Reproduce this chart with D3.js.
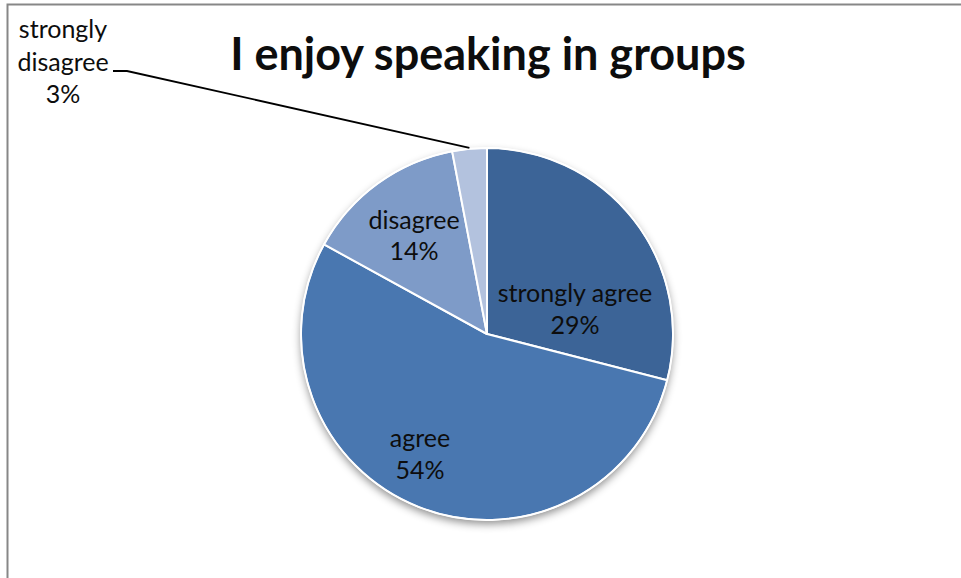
<!DOCTYPE html>
<html>
<head>
<meta charset="utf-8">
<script src="https://cdn.jsdelivr.net/npm/d3@7/dist/d3.min.js"></script>
<style>
  html, body { margin: 0; padding: 0; background: #fff; }
  svg { display: block; }
  text { font-family: Lato, "Open Sans", sans-serif; fill: #0d0d0d; }
</style>
</head>
<body>
<svg id="chart" width="961" height="578"></svg>
<script>
// Survey responses for "I enjoy speaking in groups"
const categories = ["strongly agree", "agree", "disagree", "strongly disagree"];
const percents = [29, 54, 14, 3];
const colors = ["#3c6497", "#4977b0", "#7e9bc8", "#b3c2de"];
const title = "I enjoy speaking in groups";

const W = 961, H = 578;
const svg = d3.select("#chart");

// chart frame (left and top edges visible)
svg.append("rect")
  .attr("x", 7.5).attr("y", 4.5)
  .attr("width", W + 20).attr("height", H + 20)
  .attr("fill", "#fff")
  .attr("stroke", "#878787").attr("stroke-width", 2);

const defs = svg.append("defs");
const shadow = defs.append("filter").attr("id", "pieShadow")
  .attr("x", "-20%").attr("y", "-20%").attr("width", "140%").attr("height", "140%");
shadow.append("feDropShadow")
  .attr("dx", 0).attr("dy", 4).attr("stdDeviation", 4)
  .attr("flood-color", "#000").attr("flood-opacity", 0.45);

// title
svg.append("text")
  .attr("x", 488).attr("y", 70)
  .attr("text-anchor", "middle")
  .attr("font-weight", "bold")
  .attr("font-size", 45)
  .text(title);

const cx = 487, cy = 334, R = 186;
const g = svg.append("g").attr("transform", `translate(${cx},${cy})`);

const pie = d3.pie().sort(null).value(d => d.value);
const arcs = pie(categories.map((c, i) => ({ name: c, value: percents[i], color: colors[i] })));
const arc = d3.arc().innerRadius(0).outerRadius(R);

// shadow disc under the pie
g.append("circle").attr("r", R).attr("fill", "#fff").attr("filter", "url(#pieShadow)");

g.selectAll("path.slice").data(arcs).join("path")
  .attr("class", "slice")
  .attr("d", arc)
  .attr("fill", d => d.data.color)
  .attr("stroke", "#fff")
  .attr("stroke-width", 2)
  .attr("stroke-linejoin", "round");

g.append("circle").attr("r", R).attr("fill", "none")
  .attr("stroke", "#fff").attr("stroke-width", 1.5);

// label placement (first baseline), in units of the pie radius
const labelPos = {
  "strongly agree": [0.473, -0.172],
  "agree": [-0.36, 0.608],
  "disagree": [-0.392, -0.565]
};
const fs = 25, lh = 31.5;

arcs.forEach(d => {
  const name = d.data.name;
  const pct = d.data.value + "%";
  if (labelPos[name]) {
    const [ux, uy] = labelPos[name];
    const t = g.append("text").attr("text-anchor", "middle").attr("font-size", fs);
    t.append("tspan").attr("x", ux * R).attr("y", uy * R).text(name);
    t.append("tspan").attr("x", ux * R).attr("y", uy * R + lh).text(pct);
  } else {
    // outside label with a leader line to the slice
    const lx = 63, ly = 38, step = 32.5;
    const t = svg.append("text").attr("text-anchor", "middle").attr("font-size", fs);
    const words = name.split(" ");
    words.forEach((w, i) => t.append("tspan").attr("x", lx).attr("y", ly + i * step).text(w));
    t.append("tspan").attr("x", lx).attr("y", ly + words.length * step).text(pct);
    const mid = (d.startAngle + d.endAngle) / 2;
    const ex = cx + (R + 1) * Math.sin(mid), ey = cy - (R + 1) * Math.cos(mid);
    svg.append("path")
      .attr("d", d3.line()([[113, 71], [127, 71], [ex, ey]]))
      .attr("fill", "none").attr("stroke", "#000").attr("stroke-width", 1.8);
  }
});
</script>
</body>
</html>
